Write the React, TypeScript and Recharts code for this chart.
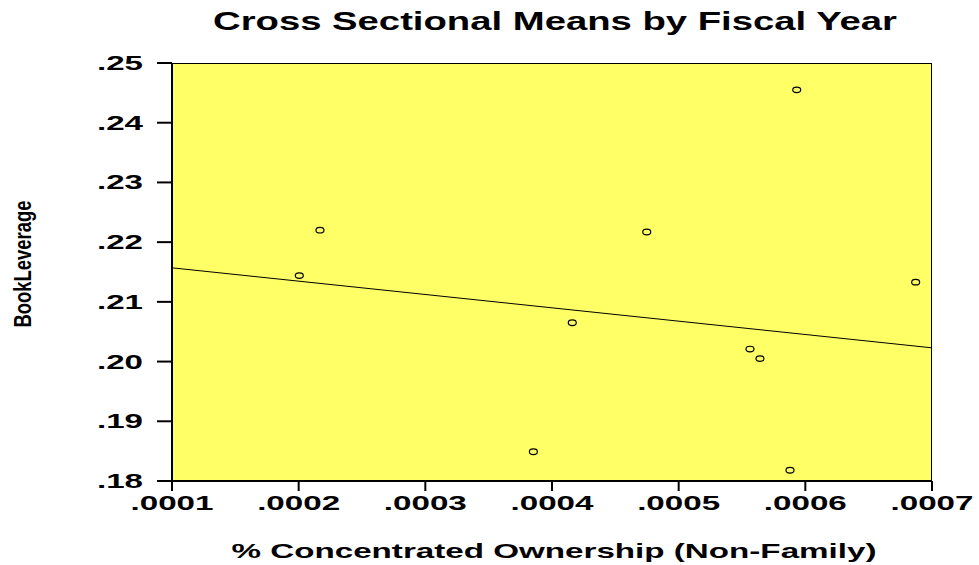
import React from 'react';
import { ScatterChart, Scatter, XAxis, YAxis, ReferenceArea } from 'recharts';

// % concentrated ownership vs book leverage, one point per fiscal year
const ownership = [0.0002005, 0.0002168, 0.0003853, 0.000416, 0.0004748, 0.0005563, 0.0005642, 0.0005879, 0.0005932, 0.0006871];
const leverage = [0.2144, 0.222, 0.1849, 0.2065, 0.2217, 0.2021, 0.2005, 0.1818, 0.2455, 0.2133];

// fitted line, read at both plot edges
const fitX = [0.0001, 0.0007];
const fitY = [0.2157, 0.2023];

const xTicks = [0.0001, 0.0002, 0.0003, 0.0004, 0.0005, 0.0006, 0.0007];
const yTicks = [0.18, 0.19, 0.2, 0.21, 0.22, 0.23, 0.24, 0.25];

const points = ownership.map((x, i) => ({ x, y: leverage[i] }));
const fitLine = fitX.map((x, i) => ({ x, y: fitY[i] }));

const FONT = '"Liberation Sans", Arial, sans-serif';

const XTick = (p: any) => (
  <text x={p.x} y={p.y + 19} textAnchor="middle" fontFamily={FONT} fontWeight="bold" fontSize={21}
    fill="#000" textLength={83} lengthAdjust="spacingAndGlyphs">
    {p.payload.value.toFixed(4).replace(/^0/, '')}
  </text>
);

const YTick = (p: any) => (
  <text x={p.x} y={p.y + 7} textAnchor="end" fontFamily={FONT} fontWeight="bold" fontSize={20}
    fill="#000" textLength={46} lengthAdjust="spacingAndGlyphs">
    {p.payload.value.toFixed(2).replace(/^0/, '')}
  </text>
);

const Ring = (p: any) => (
  <ellipse cx={p.cx} cy={p.cy} rx={4} ry={2.8} fill="none" stroke="#000" strokeWidth={1.2} />
);

export default function App() {
  return (
    <div style={{ position: 'absolute', left: 0, top: 0, width: 979, height: 565, background: '#fff' }}>
      <ScatterChart width={979} height={565} margin={{ top: 63, right: 47, bottom: 24, left: 0 }}>
        <XAxis type="number" dataKey="x" domain={[0.0001, 0.0007]} ticks={xTicks} allowDataOverflow
          height={60} tickSize={10} tickMargin={0} tick={<XTick />}
          axisLine={{ stroke: '#000', strokeWidth: 2 }} tickLine={{ stroke: '#000', strokeWidth: 2 }} />
        <YAxis type="number" dataKey="y" domain={[0.18, 0.25]} ticks={yTicks} allowDataOverflow
          width={172} tickSize={15} tickMargin={14} tick={<YTick />}
          axisLine={{ stroke: '#000', strokeWidth: 2 }} tickLine={{ stroke: '#000', strokeWidth: 2 }} />
        <ReferenceArea x1={0.0001} x2={0.0007} y1={0.18} y2={0.25} fill="#ffff66" fillOpacity={1}
          stroke="#000" strokeWidth={2} ifOverflow="hidden" />
        <Scatter data={fitLine} line={{ stroke: '#000', strokeWidth: 1 }} shape={() => <g />}
          isAnimationActive={false} />
        <Scatter data={points} shape={<Ring />} isAnimationActive={false} />
      </ScatterChart>
      <svg width={979} height={565} style={{ position: 'absolute', left: 0, top: 0, pointerEvents: 'none' }}>
        <text x={555} y={30} textAnchor="middle" fontFamily={FONT} fontWeight="bold" fontSize={25}
          textLength={684} lengthAdjust="spacingAndGlyphs">Cross Sectional Means by Fiscal Year</text>
        <text x={554} y={558} textAnchor="middle" fontFamily={FONT} fontWeight="bold" fontSize={21}
          textLength={645} lengthAdjust="spacingAndGlyphs">% Concentrated Ownership (Non-Family)</text>
        <text x={0} y={0} transform="translate(31 264) rotate(-90)" textAnchor="middle" fontFamily={FONT}
          fontWeight="bold" fontSize={24} textLength={127} lengthAdjust="spacingAndGlyphs">BookLeverage</text>
      </svg>
    </div>
  );
}
